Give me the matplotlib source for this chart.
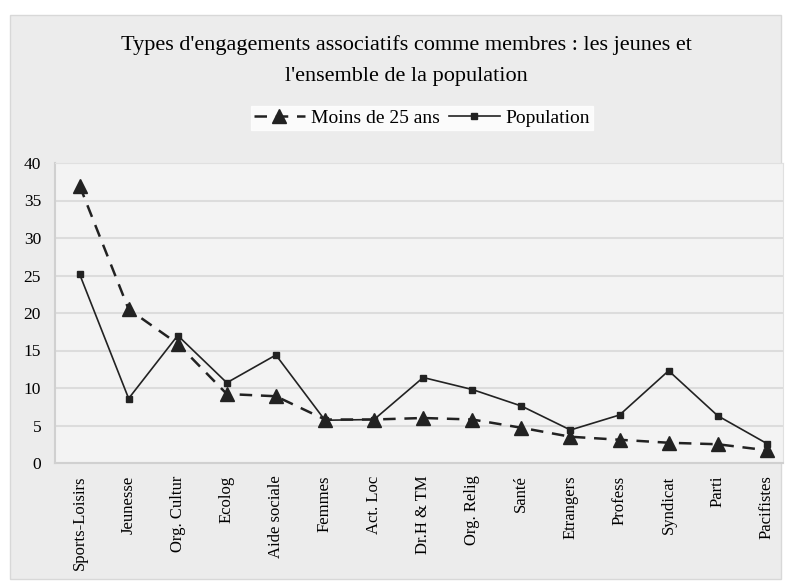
import matplotlib.pyplot as plt
from matplotlib.patches import Rectangle

categories = ["Sports-Loisirs", "Jeunesse", "Org. Cultur", "Ecolog", "Aide sociale",
              "Femmes", "Act. Loc", "Dr.H & TM", "Org. Relig", "Santé",
              "Etrangers", "Profess", "Syndicat", "Parti", "Pacifistes"]
jeunes = [37.0, 20.5, 15.9, 9.2, 8.9, 5.8, 5.8, 6.0, 5.8, 4.7, 3.5, 3.1, 2.7, 2.5, 1.7]
population = [25.2, 8.6, 17.0, 10.7, 14.4, 5.7, 5.8, 11.4, 9.8, 7.6, 4.4, 6.4, 12.3, 6.3, 2.6]
yticks = [0, 5, 10, 15, 20, 25, 30, 35, 40]

plt.rcParams['font.family'] = ['Liberation Serif', 'DejaVu Serif']

fig = plt.figure(figsize=(7.89, 5.82), dpi=100, facecolor='white')
fig.patches.append(Rectangle((10 / 789, 0.005), 0.99 - 10 / 789, 0.97, transform=fig.transFigure,
                             facecolor='#ececec', edgecolor='#d8d8d8', zorder=-5))

ax = fig.add_axes([55 / 789, 1 - 463 / 582, (783 - 55) / 789, (463 - 163) / 582])
ax.set_zorder(2)
ax.set_facecolor('#f3f3f3')

x = list(range(len(categories)))
ax.plot(x, population, color='#222222', lw=1.2, marker='s', ms=5, label='Population', zorder=3)
ax.plot(x, jeunes, color='#222222', lw=1.8, ls=(0, (5, 3.5)), marker='^', ms=10,
        label='Moins de 25 ans', zorder=4)

ax.set_xlim(-0.5, 14.33)
ax.set_ylim(0, 40)
ax.set_yticks(yticks)
ax.set_xticks(x)
ax.set_xticklabels(categories, rotation=90, fontsize=12)
ax.tick_params(axis='y', labelsize=12.5, length=0, pad=10)
ax.tick_params(axis='x', length=0, pad=9)
ax.grid(axis='y', color='#dcdcdc', lw=1.5)
ax.set_axisbelow(True)
for s in ['top', 'right']:
    ax.spines[s].set_color('#e0e0e0')
for s in ['left', 'bottom']:
    ax.spines[s].set_color('#d0d0d0')
    ax.spines[s].set_linewidth(1.5)

fig.text(0.515, 0.922, "Types d'engagements associatifs comme membres : les jeunes et",
         ha='center', va='center', fontsize=16)
fig.text(0.515, 0.869, "l'ensemble de la population", ha='center', va='center', fontsize=16)

h, l = ax.get_legend_handles_labels()
leg = fig.legend(h[::-1], l[::-1], loc='center', bbox_to_anchor=(0.535, 0.797), ncol=2,
                 frameon=True, fontsize=14, handlelength=2.6, columnspacing=0.5,
                 handletextpad=0.3, borderpad=0.15, fancybox=False)
leg.get_frame().set_facecolor('white')
leg.get_frame().set_edgecolor('white')

fig.savefig('out.png', dpi=100, facecolor='white')
